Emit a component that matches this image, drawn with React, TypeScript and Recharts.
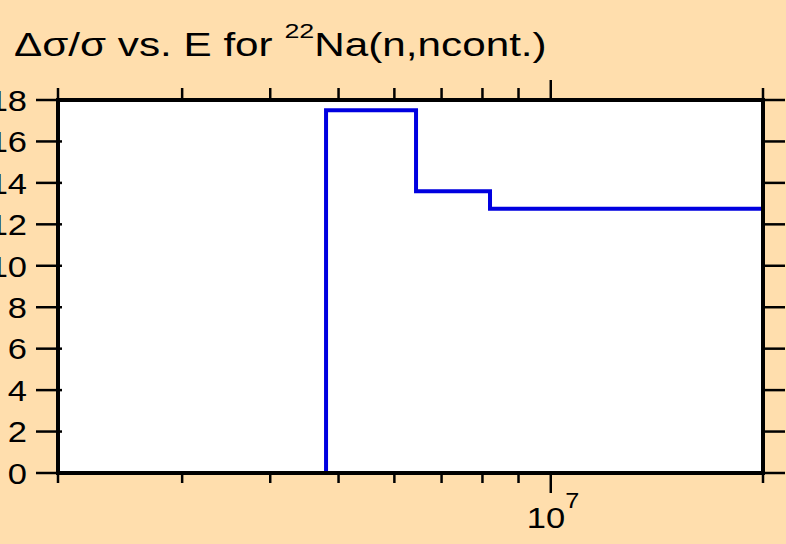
import { Line, LineChart, XAxis, YAxis } from "recharts";

// energy bin edges (eV) and relative uncertainty per bin
const binEdges = [4.8e6, 6.44e6, 8.2e6, 2e7];
const binValues = [17.5, 13.6, 12.75];

const xTicks = [2e6, 3e6, 4e6, 5e6, 6e6, 7e6, 8e6, 9e6, 1e7, 2e7];
const xMajor = [1e7];
const yTicks = [0, 2, 4, 6, 8, 10, 12, 14, 16, 18];

const last = binEdges.length - 1;
const data = [
  { e: binEdges[0], v: 0 },
  ...binValues.map((v, i) => ({ e: binEdges[i], v })),
  { e: binEdges[last], v: binValues[binValues.length - 1] },
  { e: binEdges[last], v: 0 },
];

const FONT = "'Liberation Sans', Arial, sans-serif";
const SX = 1.15;

function BottomTick(props: any) {
  const { x, y, payload } = props;
  const major = xMajor.includes(payload.value);
  const exp = Math.round(Math.log10(payload.value));
  return (
    <g>
      <line x1={x} x2={x} y1={y - 2} y2={y + (major ? 20 : 10)} stroke="#000" strokeWidth={2.5} />
      {major && (
        <text
          transform={`translate(${x - 24},${y + 55}) scale(${SX},1)`}
          fontFamily={FONT}
          fontSize={30}
          fill="#000"
        >
          10
          <tspan dy={-20} fontSize={22}>
            {exp}
          </tspan>
        </text>
      )}
    </g>
  );
}

function TopTick(props: any) {
  const { x, y, payload } = props;
  const major = xMajor.includes(payload.value);
  return <line x1={x} x2={x} y1={y + 2} y2={y - (major ? 20 : 12)} stroke="#000" strokeWidth={2.5} />;
}

function LeftTick(props: any) {
  const { x, y, payload } = props;
  return (
    <g>
      <line x1={x + 4} x2={x - 22} y1={y} y2={y} stroke="#000" strokeWidth={2.5} />
      <text
        transform={`translate(${x - 31},${y}) scale(${SX},1)`}
        textAnchor="end"
        dy="0.36em"
        fontFamily={FONT}
        fontSize={30}
        fill="#000"
      >
        {payload.value}
      </text>
    </g>
  );
}

function RightTick(props: any) {
  const { x, y } = props;
  return <line x1={x - 2} x2={x + 22} y1={y} y2={y} stroke="#000" strokeWidth={2.5} />;
}

const axisLine = { stroke: "#000", strokeWidth: 4, strokeLinecap: "square" as const };

export default function App() {
  return (
    <div
      style={{
        position: "absolute",
        left: 0,
        top: 0,
        width: 786,
        height: 544,
        background: "#FFDEAD",
        fontFamily: FONT,
      }}
    >
      <svg width={786} height={100} style={{ position: "absolute", left: 0, top: 0 }}>
        <text transform="translate(14,56) scale(1.28,1)" fontFamily={FONT} fontSize={33} fill="#000">
          Δσ/σ vs. E for{" "}
          <tspan dy={-18} fontSize={21}>
            22
          </tspan>
          <tspan dy={18}>Na(n,ncont.)</tspan>
        </text>
      </svg>
      <LineChart
        width={786}
        height={544}
        data={data}
        margin={{ top: 80, right: 0, bottom: 0, left: 0 }}
        style={{ position: "absolute", left: 0, top: 0 }}
      >
        <rect x={58} y={100} width={705} height={373} fill="#fff" />
        <XAxis
          dataKey="e"
          type="number"
          scale="log"
          domain={[2e6, 2e7]}
          allowDataOverflow
          ticks={xTicks}
          interval={0}
          height={71}
          tickSize={0}
          tickMargin={0}
          tickLine={false}
          axisLine={axisLine}
          tick={<BottomTick />}
        />
        <XAxis
          xAxisId="top"
          orientation="top"
          dataKey="e"
          type="number"
          scale="log"
          domain={[2e6, 2e7]}
          allowDataOverflow
          ticks={xTicks}
          interval={0}
          height={20}
          tickSize={0}
          tickMargin={0}
          tickLine={false}
          axisLine={axisLine}
          tick={<TopTick />}
        />
        <YAxis
          type="number"
          domain={[0, 18]}
          ticks={yTicks}
          interval={0}
          width={58}
          tickSize={0}
          tickMargin={0}
          tickLine={false}
          axisLine={axisLine}
          tick={<LeftTick />}
        />
        <YAxis
          yAxisId="right"
          orientation="right"
          type="number"
          domain={[0, 18]}
          ticks={yTicks}
          interval={0}
          width={23}
          tickSize={0}
          tickMargin={0}
          tickLine={false}
          axisLine={axisLine}
          tick={<RightTick />}
        />
        {/* invisible copy so the top/right axes get a scale */}
        <Line
          xAxisId="top"
          yAxisId="right"
          dataKey="v"
          type="stepAfter"
          stroke="none"
          dot={false}
          legendType="none"
          isAnimationActive={false}
        />
        <Line
          dataKey="v"
          type="stepAfter"
          stroke="#0000e0"
          strokeWidth={4}
          dot={false}
          isAnimationActive={false}
        />
      </LineChart>
    </div>
  );
}
